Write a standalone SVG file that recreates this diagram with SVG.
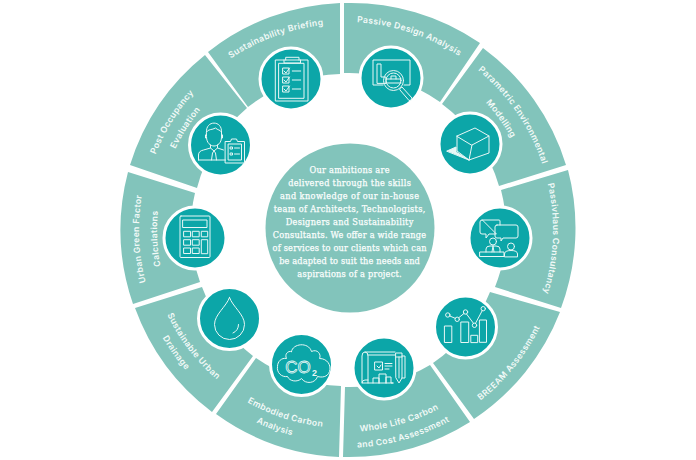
<svg xmlns="http://www.w3.org/2000/svg" width="696" height="460" viewBox="0 0 696 460">
<style>
.seg{fill:#82c4bb}
.disc{fill:#0ca6a8;stroke:#fff;stroke-width:3}
.ic{fill:none;stroke:#e8f7f6;stroke-width:1;stroke-linejoin:round;stroke-linecap:round}
.lab{font-family:"Inter","Open Sans","Liberation Sans",sans-serif;font-weight:600;font-size:8.6px;letter-spacing:.35px;fill:#f2faf8;text-anchor:middle}
.mid{font-family:"DejaVu Serif Condensed","DejaVu Serif","Liberation Serif",serif;font-weight:400;font-size:9.1px;fill:#fbfefd;stroke:#fbfefd;stroke-width:.25px;text-anchor:middle}
</style>
<defs>
<path id="c188" d="M157 230A188 188 0 0 1 533 230"/>
<path id="c190" d="M155 230A190 190 0 0 1 535 230"/>
<path id="c204" d="M141 230A204 204 0 0 1 549 230"/>
<path id="c206" d="M139 230A206 206 0 0 1 551 230"/>
<path id="c208" d="M137 230A208 208 0 0 1 553 230"/>
<path id="a197" d="M148 230A197 197 0 0 0 542 230"/>
<path id="a198" d="M147 230A198 198 0 0 0 543 230"/>
<path id="a202" d="M143 230A202 202 0 0 0 547 230"/>
<path id="a212" d="M133 230A212 212 0 0 0 557 230"/>
<path id="a218" d="M127 230A218 218 0 0 0 563 230"/>
</defs>
<rect width="696" height="460" fill="#fff"/>
<g id="connectors"></g>

<g id="passive-design">
<path class="seg" d="M344 3A228 228 0 0 1 480 43L440 102A157 157 0 0 0 344 73Z"/>
<text class="lab" transform="rotate(18.3 345 230)"><textPath href="#c208" startOffset="50%">Passive Design Analysis</textPath></text>
<circle class="disc" cx="391" cy="78" r="31"/>
<g class="ic" transform="translate(391 78)">
<path d="M-8 7H-18V-18H19V7H13"/>
<path d="M-14 5V-14H-10V-1H-5V5Z"/>
<circle cx="2.5" cy="2.5" r="10"/><circle cx="2.5" cy="2.5" r="7.5"/>
<path d="M-5 1H10M-5 5H10M0 1V-2H5V1"/>
<path d="M9.5 10L11 9L21 20Q21 23 18 22.500L9 12Z"/>
</g>
</g>

<g id="parametric-modelling">
<path class="seg" d="M483 48A228 228 0 0 1 566 165L499 186A157 157 0 0 0 442 104Z"/>
<text class="lab" transform="rotate(55.7 345 230)"><textPath href="#c208" startOffset="50%">Parametric Environmental</textPath></text>
<text class="lab" transform="rotate(54.5 345 230)"><textPath href="#c190" startOffset="50%">Modelling</textPath></text>
<circle class="disc" cx="470" cy="144" r="31"/>
<g class="ic" transform="translate(470 144)">
<path d="M-13 -8L5 -16L19 -8L2 1ZM-13 -8V7L-1 16L19 9V-8M2 1L-1 16"/>
<path d="M-23 7L-14 3V8L-1 16Z" fill="#e8f7f6"/>
</g>
</g>

<g id="passivhaus">
<path class="seg" d="M568 170A228 228 0 0 1 561 308L495 287A157 157 0 0 0 501 190Z"/>
<text class="lab" transform="rotate(92.4 345 230)"><textPath href="#c208" startOffset="50%">PassivHaus Consultancy</textPath></text>
<circle class="disc" cx="500" cy="238" r="31"/>
<g class="ic" transform="translate(500 238)">
<path d="M-18 -18H-1Q0 -18 0 -17V-13M-4 -4H-11L-14 0V-4H-18Q-20 -4 -20 -6V-16Q-20 -18 -18 -18Z"/>
<path d="M-3 -13H16Q18 -13 18 -11V-2Q18 0 16 0H3L1 3V0H-3Q-5 0 -5 -2V-11Q-5 -13 -3 -13Z"/>
<circle cx="-7" cy="3.500" r="3.500"/>
<path d="M-14 14V11Q-14 8 -10 8H-4Q0 8 0 11V14M-7 8L-8 14M-7 8L-6 14"/>
<rect x="-20" y="14" width="24" height="4.500"/>
<circle cx="11" cy="8.500" r="3.500"/>
<path d="M4.500 18.500V16Q4.500 12.500 11 12.500Q17.500 12.500 17.500 16V18.500Z"/>
</g>
</g>

<g id="breeam">
<path class="seg" d="M560 312A228 228 0 0 1 474 419L433 363A157 157 0 0 0 490 292Z"/>
<text class="lab" transform="rotate(-51 345 230)"><textPath href="#a218" startOffset="50%">BREEAM Assessment</textPath></text>
<circle class="disc" cx="465.500" cy="327" r="31"/>
<g class="ic" transform="translate(465.500 327)">
<rect x="-20.700" y="-1" width="7" height="16.500"/>
<rect x="-4.300" y="-5" width="7.500" height="20.500"/>
<rect x="5.700" y="8.300" width="6.500" height="7.300"/>
<rect x="14.300" y="-7" width="6.700" height="22.300"/>
<circle cx="-17.700" cy="-12" r="2.200"/><circle cx="-8.300" cy="-7.700" r="2.200"/><circle cx="0" cy="-15" r="2.200"/><circle cx="9" cy="-1.700" r="2.200"/><circle cx="17.700" cy="-18.300" r="2.200"/>
<path d="M-15.700 -11L-10.300 -8.700M-6.700 -9.300L-1.600 -13.500M1 -13L8 -3.700M10 -3.700L16.700 -16.300"/>
</g>
</g>

<g id="whole-life">
<path class="seg" d="M470 422A228 228 0 0 1 343 457L345 387A157 157 0 0 0 430 365Z"/>
<text class="lab" transform="rotate(-16 345 230)"><textPath href="#a202" startOffset="50%">Whole Life Carbon</textPath></text>
<text class="lab" transform="rotate(-16 345 230)"><textPath href="#a218" startOffset="50%">and Cost Assessment</textPath></text>
<circle class="disc" cx="384" cy="368" r="31"/>
<g class="ic" transform="translate(384 368)">
<path d="M-16 15V-12Q-16 -16 -19 -16Q-22 -16 -22 -12V15Q-22 15 -19 15H9"/>
<path d="M-19 -16H11M-22 15Q-22 12 -19 12H-16M-16 -13H11"/>
<rect x="-9" y="-6" width="7.500" height="8"/>
<path d="M-7 -2L-5 0L-3 -3M1 -4.500H8M1 -2H8M1 1H5"/>
<path d="M-11 15V10H-5V15M-5 15V6H2V15M2 15V9H7V15H9"/>
<path d="M12 -15H18V10L15 15L12 10ZM12 -11H18M15 -11V10M18 -12H21V10H18"/>
</g>
</g>

<g id="embodied-carbon">
<path class="seg" d="M339 457A228 228 0 0 1 216 414L256 358A157 157 0 0 0 341 386Z"/>
<text class="lab" transform="rotate(18 345 230)"><textPath href="#a198" startOffset="50%">Embodied Carbon</textPath></text>
<text class="lab" transform="rotate(19.600 345 230)"><textPath href="#a212" startOffset="50%">Analysis</textPath></text>
<circle class="disc" cx="301.500" cy="364.500" r="31"/>
<g class="ic" transform="translate(301.500 364.500)">
<path d="M-10 -13C-9 -21 7 -23 10 -13C16 -16 20 -10 18 -6C26 -6 30 1 28 7C26 13 20 13 16 12C14 19 4 20 0 14C-4 18 -12 17 -14 12C-20 13 -25 8 -24 2C-24 -3 -20 -7 -15 -6C-17 -10 -14 -14 -10 -13Z"/>
<text x="-3.500" y="8" text-anchor="middle" font-family="'Liberation Sans',sans-serif" font-size="17" fill="none" stroke="#e8f7f6" stroke-width=".8">CO</text>
<text x="13" y="11" text-anchor="middle" font-family="'Liberation Sans',sans-serif" font-size="9" font-weight="700" fill="#e8f7f6" stroke="none">2</text>
</g>
</g>

<g id="urban-drainage">
<path class="seg" d="M212 412A228 228 0 0 1 135 308L202 287A157 157 0 0 0 253 356Z"/>
<text class="lab" transform="rotate(52.500 345 230)"><textPath href="#a197" startOffset="50%">Sustainable Urban</textPath></text>
<text class="lab" transform="rotate(54 345 230)"><textPath href="#a212" startOffset="50%">Drainage</textPath></text>
<circle class="disc" cx="229.500" cy="318.500" r="31"/>
<g class="ic" transform="translate(229.500 318.500)">
<path d="M0 -21C-3 -12 -15 -4 -15 6A15 15 0 0 0 15 6C15 -4 3 -12 0 -21Z"/>
<path d="M9 6C9 10 7 13 3.500 14.500"/>
</g>
</g>

<g id="urban-green">
<path class="seg" d="M133 304A228 228 0 0 1 128 172L195 193A157 157 0 0 0 200 282Z"/>
<text class="lab" transform="rotate(-92.500 345 230)"><textPath href="#c206" startOffset="50%">Urban Green Factor</textPath></text>
<text class="lab" transform="rotate(-92.600 345 230)"><textPath href="#c188" startOffset="50%">Calculations</textPath></text>
<circle class="disc" cx="195" cy="238" r="31"/>
<g class="ic" transform="translate(195 238)">
<rect x="-15" y="-22" width="30" height="41.500" rx="1"/>
<rect x="-12" y="-18" width="24" height="7.500"/>
<rect x="-11" y="-6.700" width="6.500" height="5.500"/><rect x="-2.300" y="-6.700" width="6.500" height="5.500"/><rect x="6.700" y="-6.700" width="6" height="5.500"/>
<rect x="-11" y="1.700" width="6.500" height="5.500"/><rect x="-2.300" y="1.700" width="6.500" height="5.500"/>
<rect x="-11" y="10" width="6.500" height="5.500"/><rect x="-2.300" y="10" width="6.500" height="5.500"/>
<rect x="6.700" y="1.700" width="6" height="14"/>
</g>
</g>

<g id="post-occupancy">
<path class="seg" d="M130 165A228 228 0 0 1 205 55L247 108A157 157 0 0 0 197 188Z"/>
<text class="lab" transform="rotate(-58 345 230)"><textPath href="#c204" startOffset="50%">Post Occupancy</textPath></text>
<text class="lab" transform="rotate(-57.300 345 230)"><textPath href="#c188" startOffset="50%">Evaluation</textPath></text>
<circle class="disc" cx="220.500" cy="145" r="31"/>
<g class="ic" transform="translate(220.500 145)">
<path d="M-14 -13C-15 -25 2 -25 1 -13"/>
<path d="M-14 -13C-13 -16 -8 -15 -5 -17C-3 -15 0 -15 1 -13V-8C1 -2 -3 1 -6.500 1C-10 1 -14 -2 -14 -8Z"/>
<path d="M-15 -10V-7H-14M2 -10V-7H1"/>
<path d="M-10 0V3L-6.500 6L-3 3V0M-22 15V10Q-22 6 -17 5L-10 3M3 5L-3 3M-6.500 6L-8 8L-9 15M-6.500 6L-5 8L-4 15M-22 15H5"/>
<path d="M5 -3.500H10L11 -6H16L17 -3.500H24V18H5Z"/>
<rect x="8" y="-1" width="13" height="16"/>
<path d="M10 2H12V4H10ZM14 3H19M10 8H12V10H10ZM14 9H19"/>
</g>
</g>

<g id="sustainability-briefing">
<path class="seg" d="M208 52A228 228 0 0 1 340 3V74A157 157 0 0 0 248 107Z"/>
<text class="lab" transform="rotate(-19.800 345 230)"><textPath href="#c206" startOffset="50%">Sustainability Briefing</textPath></text>
<circle class="disc" cx="291" cy="79" r="31"/>
<g class="ic" transform="translate(291 79)">
<rect x="-15.300" y="-19" width="32.300" height="41"/>
<rect x="-12" y="-15.700" width="25" height="35"/>
<path d="M-5.300 -19V-21.700H8V-19M-7 -19V-16H9.500V-19"/>
<path d="M-8 -11H-2V-5H-8ZM-7 -8L-5 -6L-1.500 -11M1.300 -8H9.700"/>
<path d="M-8 -2H-2V4H-8ZM-7 1L-5 3L-1.500 -2M1.300 1H9.700"/>
<path d="M-8 7H-2V13H-8ZM-7 10L-5 12L-1.500 7M1.300 10H9.700"/>
</g>
</g>

<g id="centre">
<circle cx="350" cy="228" r="84.500" fill="#82c4bb"/>
<text class="mid" x="349.500" y="173" textLength="80">Our ambitions are</text>
<text class="mid" x="349.500" y="186" textLength="122.700">delivered through the skills</text>
<text class="mid" x="349.500" y="199" textLength="139">and knowledge of our in-house</text>
<text class="mid" x="349.500" y="212" textLength="151.700">team of Architects, Technologists,</text>
<text class="mid" x="349.500" y="225" textLength="127.700">Designers and Sustainability</text>
<text class="mid" x="349.500" y="238" textLength="153.300">Consultants. We offer a wide range</text>
<text class="mid" x="349.500" y="251" textLength="154">of services to our clients which can</text>
<text class="mid" x="349.500" y="264" textLength="140.700">be adapted to suit the needs and</text>
<text class="mid" x="349.500" y="277" textLength="104.300">aspirations of a project.</text>
</g>
</svg>
